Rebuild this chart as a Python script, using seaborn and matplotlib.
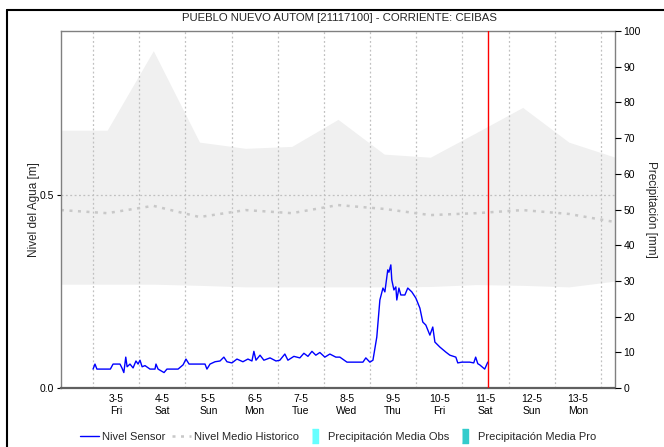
import matplotlib
matplotlib.use("Agg")
import matplotlib.dates as mdates
import matplotlib.pyplot as plt
import matplotlib.ticker as mticker
import pandas as pd
import seaborn as sns
from matplotlib.lines import Line2D

TITLE = "PUEBLO NUEVO AUTOM [21117100] - CORRIENTE: CEIBAS"
START = pd.Timestamp("2024-05-03 00:00")

# historical band / mean, one value per day at ~07:20
band_days = ["2024-05-02", "2024-05-03", "2024-05-04", "2024-05-05", "2024-05-06",
             "2024-05-07", "2024-05-08", "2024-05-09", "2024-05-10", "2024-05-11",
             "2024-05-12", "2024-05-13", "2024-05-14"]
band_upper = [0.668, 0.668, 0.874, 0.637, 0.621, 0.626, 0.696, 0.606, 0.598,
              0.662, 0.727, 0.637, 0.598]
band_lower = [0.269, 0.269, 0.269, 0.266, 0.262, 0.262, 0.262, 0.262, 0.263,
              0.268, 0.266, 0.262, 0.277]
mean_level = [0.461, 0.453, 0.472, 0.443, 0.461, 0.453, 0.474, 0.464, 0.448,
              0.453, 0.461, 0.451, 0.430]

# sensor readings: hours after 3-5 00:00, level in m
sensor_hours = [0, 1, 2, 9, 10.4, 14, 15, 16, 17, 17.7, 19.2, 20.8, 22.3, 23.4, 24.4,
                25.5, 27, 29.6, 32.2, 32.7, 33.8, 36.9, 38.4, 44.2, 46.8, 48.3, 49.9,
                53, 55.6, 58.2, 59.2, 60.8, 63.4, 66, 68, 69.6, 72.2, 74.8, 77.9, 80.5,
                82.6, 83.6, 84.7, 86.8, 88.8, 92, 95.1, 97.1, 99.7, 101.3, 104.4, 107.5,
                109.6, 111.7, 113.8, 115.8, 117.9, 120.5, 123.1, 126.2, 128.3, 132,
                140.3, 141.8, 143.9, 145.5, 147.5, 149.1, 150.7, 151.7, 153.2, 153.8,
                154.8, 155.3, 156.4, 157.4, 157.9, 159, 160, 162.1, 163.6, 165.7,
                167.8, 169.9, 171.4, 173, 175.1, 176.6, 177.7, 180.3, 183.4, 185.5,
                188.6, 189.6, 191.7, 195.8, 197.9, 198.9, 200, 201, 203.6, 205.2]
sensor_level = [0.049, 0.062, 0.049, 0.049, 0.062, 0.062, 0.052, 0.040, 0.080, 0.055,
                0.062, 0.052, 0.070, 0.062, 0.072, 0.055, 0.058, 0.049, 0.049, 0.062,
                0.049, 0.040, 0.049, 0.049, 0.060, 0.075, 0.062, 0.062, 0.062, 0.062,
                0.049, 0.062, 0.068, 0.070, 0.080, 0.068, 0.065, 0.075, 0.068, 0.075,
                0.070, 0.095, 0.072, 0.085, 0.072, 0.078, 0.070, 0.072, 0.088, 0.072,
                0.082, 0.078, 0.090, 0.082, 0.095, 0.085, 0.092, 0.080, 0.088, 0.080,
                0.080, 0.067, 0.067, 0.078, 0.067, 0.072, 0.132, 0.228, 0.259, 0.249,
                0.306, 0.300, 0.319, 0.280, 0.254, 0.262, 0.228, 0.259, 0.241, 0.241,
                0.259, 0.249, 0.233, 0.207, 0.171, 0.163, 0.137, 0.158, 0.119, 0.106,
                0.093, 0.085, 0.080, 0.065, 0.067, 0.067, 0.065, 0.080, 0.063, 0.060,
                0.049, 0.067]
now_hour = 205.5

label_days = [3, 4, 5, 6, 7, 8, 9, 10, 11, 12, 13]
grid_days = [3, 4, 5, 6, 7, 8, 9, 10, 11, 12, 13, 14]
precip_ticks = [0, 10, 20, 30, 40, 50, 60, 70, 80, 90, 100]

FONT = ["Liberation Sans", "DejaVu Sans"]

sns.set_theme(style="white")
plt.rcParams["font.family"] = FONT

band = pd.DataFrame({
    "time": pd.to_datetime(band_days) + pd.Timedelta(hours=7, minutes=20),
    "upper": band_upper,
    "lower": band_lower,
    "mean": mean_level,
})
sensor = pd.DataFrame({
    "time": START + pd.to_timedelta(sensor_hours, unit="h"),
    "level": sensor_level,
})

fig = plt.figure(figsize=(6.64, 4.47), dpi=100)
ax = fig.add_axes([61 / 664, 59 / 447, 554 / 664, 357 / 447])

ax.fill_between(band["time"], band["lower"], band["upper"], color="#f0f0f0", lw=0, zorder=0)
sns.lineplot(data=band, x="time", y="mean", ax=ax, color="#c8c8c8", lw=1.8,
             linestyle=(0, (1.2, 2.2)), zorder=2)
sns.lineplot(data=sensor, x="time", y="level", ax=ax, color="#0000ff", lw=1.0, zorder=4)
ax.axvline(START + pd.Timedelta(hours=now_hour), color="#ff0000", lw=1.0, zorder=5)

ax.set_xlim(band["time"].iloc[0], band["time"].iloc[-1])
ax.set_ylim(0, 0.925)
ax.set_yticks([0.0, 0.5])
ax.yaxis.set_major_formatter(mticker.FormatStrFormatter("%.1f"))
ax.axhline(0.5, color="#c0c0c0", lw=0.9, linestyle=(0, (1.5, 2)), zorder=1)

label_times = [pd.Timestamp(2024, 5, d, 12) for d in label_days]
grid_times = [pd.Timestamp(2024, 5, d) for d in grid_days]
ax.xaxis.set_major_locator(mticker.FixedLocator(mdates.date2num(label_times)))
ax.xaxis.set_major_formatter(mticker.FuncFormatter(
    lambda v, pos: f"{mdates.num2date(v).day}-{mdates.num2date(v).month}\n{mdates.num2date(v):%a}"))
ax.xaxis.set_minor_locator(mticker.FixedLocator(mdates.date2num(grid_times)))
ax.grid(True, axis="x", which="minor", color="#c0c0c0", lw=0.9, linestyle=(0, (1.5, 2)))
ax.tick_params(axis="x", which="both", length=0, labelsize=7.5, pad=4, colors="black")
ax.tick_params(axis="y", length=3, width=0.8, labelsize=7.5, pad=2, colors="black",
               left=True, direction="out")
for lab in ax.get_xticklabels():
    lab.set_linespacing(1.35)

ax.set_xlabel("")
ax.set_ylabel("Nivel del Agua [m]", fontsize=8.5, labelpad=0)

for side in ["left", "top", "right"]:
    ax.spines[side].set_color("#808080")
    ax.spines[side].set_linewidth(1.0)
ax.spines["bottom"].set_color("#606060")
ax.spines["bottom"].set_linewidth(1.6)
ax.spines["bottom"].set_linestyle((0, (1, 1)))

ax2 = ax.twinx()
ax2.set_ylim(0, 100)
ax2.set_yticks(precip_ticks)
ax2.tick_params(axis="y", length=4, width=0.8, labelsize=7.5, pad=2, colors="black",
                right=True, direction="out")
ax2.set_ylabel("Precipitación [mm]", fontsize=8.5, rotation=270, labelpad=12)
ax2.grid(False)
for side in ["left", "top", "right", "bottom"]:
    ax2.spines[side].set_visible(False)

fig.text(339 / 664, 1 - 18 / 447, TITLE, ha="center", va="center", fontsize=8.2)

handles = [
    Line2D([], [], color="#0000ff", lw=1.0),
    Line2D([], [], color="#c8c8c8", lw=1.8, linestyle=(0, (1.2, 2.2))),
    Line2D([], [], linestyle="None", marker=[(-0.4, -1), (0.4, -1), (0.4, 1), (-0.4, 1)],
           markersize=10, markerfacecolor="#66ffff", markeredgecolor="#66ffff"),
    Line2D([], [], linestyle="None", marker=[(-0.4, -1), (0.4, -1), (0.4, 1), (-0.4, 1)],
           markersize=10, markerfacecolor="#33cccc", markeredgecolor="#33cccc"),
]
labels = ["Nivel Sensor", "Nivel Medio Historico", "Precipitación Media Obs",
          "Precipitación Media Pro"]
fig.legend(handles, labels, loc="center", bbox_to_anchor=(338 / 664, 1 - 437 / 447),
           ncol=4, frameon=False, fontsize=8, handlelength=1.7, handletextpad=0.3,
           columnspacing=0.6)

# outer frame edges visible in the screenshot
fig.add_artist(Line2D([7 / 664, 7 / 664], [0, 1 - 10 / 447], color="black", lw=1.5,
                      transform=fig.transFigure))
fig.add_artist(Line2D([7 / 664, 1], [1 - 10 / 447, 1 - 10 / 447], color="black", lw=1.5,
                      transform=fig.transFigure))

fig.savefig("out.png", dpi=100)
